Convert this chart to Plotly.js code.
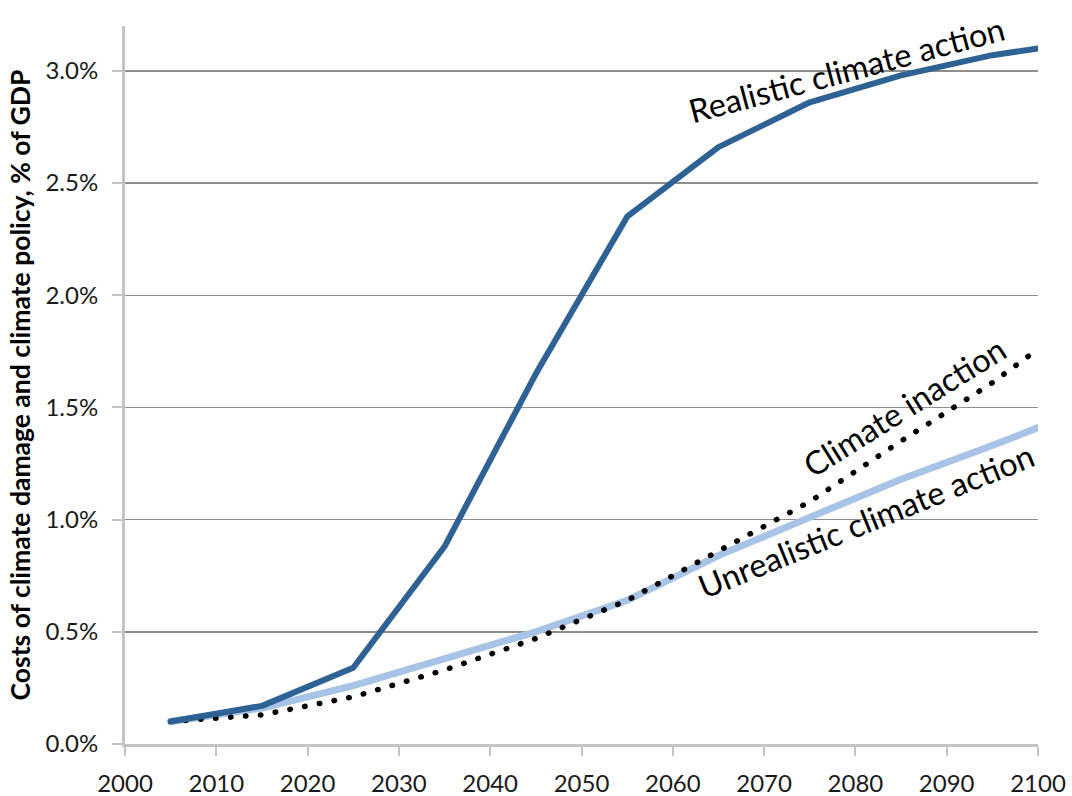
<!DOCTYPE html>
<html>
<head>
<meta charset="utf-8">
<script src="https://cdn.plot.ly/plotly-3.0.1.min.js"></script>
<style>
html,body{margin:0;padding:0;background:#fff;}
#chart{width:1072px;height:796px;}
path.js-line{stroke-linecap:round;stroke-linejoin:round;}
</style>
</head>
<body>
<div id="chart"></div>
<script>
// Data (costs, % of GDP)
const years = [2005, 2015, 2025, 2035, 2045, 2055, 2065, 2075, 2085, 2095, 2100];
const realisticAction = [0.10, 0.17, 0.34, 0.88, 1.65, 2.35, 2.66, 2.86, 2.98, 3.07, 3.10];
const climateInaction = [0.10, 0.13, 0.21, 0.33, 0.47, 0.64, 0.86, 1.08, 1.35, 1.61, 1.76];
const unrealisticAction = [0.10, 0.16, 0.26, 0.38, 0.50, 0.64, 0.84, 1.01, 1.18, 1.33, 1.41];

const yTickVals = [0, 0.5, 1.0, 1.5, 2.0, 2.5, 3.0];
const yTickText = ["0.0%", "0.5%", "1.0%", "1.5%", "2.0%", "2.5%", "3.0%"];
const xTickVals = [2000, 2010, 2020, 2030, 2040, 2050, 2060, 2070, 2080, 2090, 2100];

const labelRealistic = "Realistic climate action";
const labelInaction = "Climate inaction";
const labelUnrealistic = "Unrealistic climate action";
const yTitle = "Costs of climate damage and climate policy, % of GDP";

const FONT = "Lato, 'Open Sans', sans-serif";

const traces = [
  {x: years, y: unrealisticAction, type: 'scatter', mode: 'lines', name: labelUnrealistic,
   line: {color: '#a7c3e5', width: 7}, cliponaxis: false},
  {x: years, y: climateInaction, type: 'scatter', mode: 'lines', name: labelInaction,
   line: {color: '#000000', width: 5.5, dash: '0.5px,14.5px'}, cliponaxis: false},
  {x: years, y: realisticAction, type: 'scatter', mode: 'lines', name: labelRealistic,
   line: {color: '#2e6295', width: 6}, cliponaxis: false}
];

const layout = {
  width: 1072, height: 796,
  margin: {l: 125, r: 34, t: 26, b: 52},
  paper_bgcolor: '#ffffff', plot_bgcolor: '#ffffff',
  showlegend: false,
  font: {family: FONT, color: '#1a1a1a'},
  xaxis: {
    range: [2000, 2100], tickvals: xTickVals, ticktext: xTickVals.map(String),
    showgrid: false, zeroline: false,
    showline: true, linecolor: '#c4c4c4', linewidth: 3,
    ticks: 'outside', ticklen: 9, tickwidth: 2, tickcolor: '#c4c4c4',
    tickfont: {family: FONT, size: 24, color: '#1a1a1a'},
    ticklabelstandoff: 7
  },
  yaxis: {
    range: [0, 3.2], tickvals: yTickVals, ticktext: yTickText,
    showgrid: true, gridcolor: '#8f8f8f', gridwidth: 1.5,
    zeroline: false,
    showline: true, linecolor: '#c4c4c4', linewidth: 3,
    ticks: 'outside', ticklen: 10, tickwidth: 2, tickcolor: '#c4c4c4',
    tickfont: {family: FONT, size: 24, color: '#1a1a1a'},
    ticklabelstandoff: 9,
    title: {text: yTitle, standoff: 8, font: {family: FONT, size: 26.5, color: '#000000', weight: 'bold'}}
  },
  annotations: [
    {x: 2079.0, y: 3.008, xref: 'x', yref: 'y', text: labelRealistic, showarrow: false,
     textangle: -15, font: {family: FONT, size: 32.5, color: '#000'}, xanchor: 'center', yanchor: 'middle'},
    {x: 2085.4, y: 1.502, xref: 'x', yref: 'y', text: labelInaction, showarrow: false,
     textangle: -32, font: {family: FONT, size: 32.5, color: '#000'}, xanchor: 'center', yanchor: 'middle'},
    {x: 2081.2, y: 0.994, xref: 'x', yref: 'y', text: labelUnrealistic, showarrow: false,
     textangle: -22, font: {family: FONT, size: 32.5, color: '#000'}, xanchor: 'center', yanchor: 'middle'}
  ]
};

Plotly.newPlot('chart', traces, layout, {staticPlot: true, displayModeBar: false});
</script>
</body>
</html>
